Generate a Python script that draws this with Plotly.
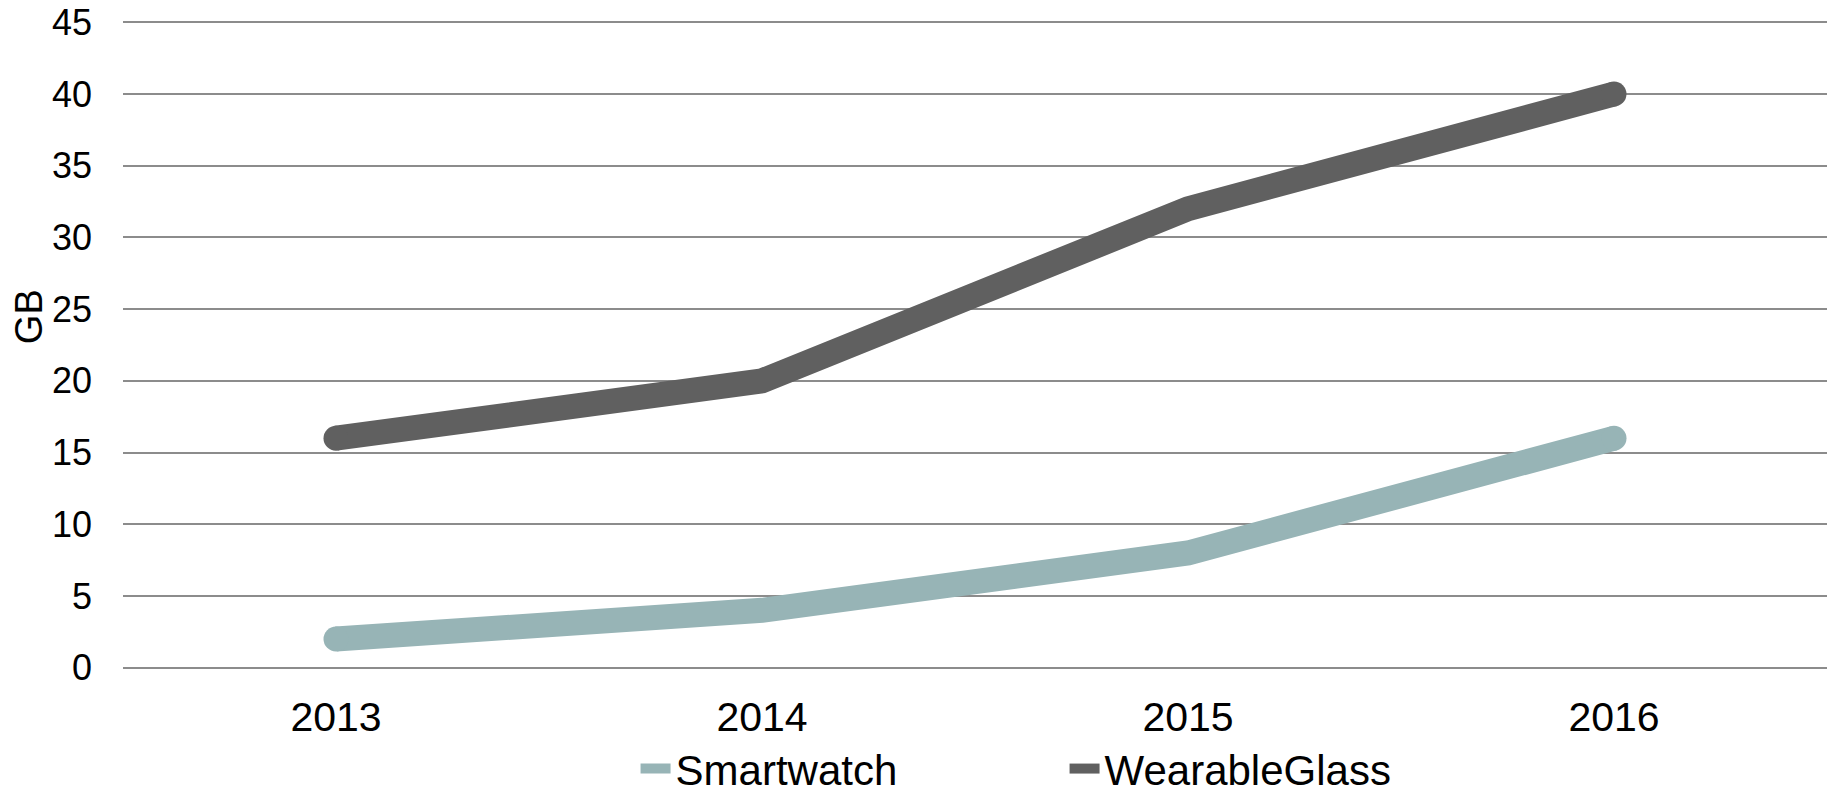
import plotly.graph_objects as go

years = ["2013", "2014", "2015", "2016"]
smartwatch = [2, 4, 8, 16]
wearable_glass = [16, 20, 32, 40]
y_ticks = [0, 5, 10, 15, 20, 25, 30, 35, 40, 45]

LINE_W = 25
cap_sizes = [LINE_W, 0, 0, LINE_W]
SW_COLOR = "#97B4B6"
WG_COLOR = "#606060"

fig = go.Figure()
for name, vals, col in [("Smartwatch", smartwatch, SW_COLOR),
                        ("WearableGlass", wearable_glass, WG_COLOR)]:
    fig.add_trace(go.Scatter(
        x=years, y=vals, name=name, mode="lines",
        line=dict(color=col, width=LINE_W),
    ))
    fig.add_trace(go.Scatter(
        x=years, y=vals, name=name, mode="markers", showlegend=False,
        marker=dict(color=col, size=cap_sizes, opacity=1, line=dict(width=0)),
    ))

fig.update_layout(
    template="none",
    width=1839, height=795,
    margin=dict(l=123, r=12, t=18, b=123),
    paper_bgcolor="white", plot_bgcolor="white",
    font=dict(family="Liberation Sans, Arial, sans-serif", color="#000000"),
    showlegend=True,
    legend=dict(
        orientation="h", xref="container", yref="container",
        x=0.3456, xanchor="left", y=0.033, yanchor="middle",
        font=dict(size=42, color="#000000"),
        entrywidth=384, entrywidthmode="pixels",
        bgcolor="rgba(0,0,0,0)",
    ),
    xaxis=dict(
        type="category", range=[-0.5, 3.5], showgrid=False, zeroline=False,
        showline=False, ticks="", tickfont=dict(size=41), automargin=False,
        ticklabelstandoff=17,
    ),
    yaxis=dict(
        range=[-0.3, 45.3], tickvals=y_ticks, showgrid=True, gridcolor="#8c8c8c",
        gridwidth=1.5, zeroline=False, showline=False, ticks="",
        tickfont=dict(size=36), ticklabelstandoff=30, automargin=False,
    ),
    annotations=[dict(
        text="GB", xref="paper", yref="paper", x=-0.055, y=0.543,
        xanchor="center", yanchor="middle", textangle=-90, showarrow=False,
        font=dict(size=38, color="#000000"),
    )],
)

fig.write_html("out.html", config={"displayModeBar": False},
               post_script="document.body.style.margin='0px';")
